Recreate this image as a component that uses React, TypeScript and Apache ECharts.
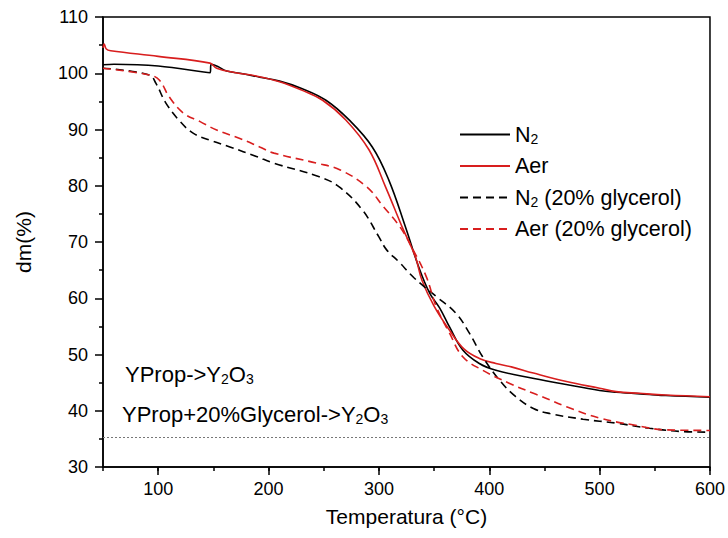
import React, { useEffect, useRef } from "react";
import * as echarts from "echarts";

// N2 (solid black)
const n2Temp = [50, 60, 100, 147, 148, 154, 162, 174, 192, 210, 230, 252, 273, 294, 309, 324, 336, 346, 355, 364, 376, 391, 406, 436, 466, 500, 515, 545, 560, 600];
const n2Mass = [101.5, 101.6, 101.3, 100.1, 101.6, 101.2, 100.4, 100.0, 99.3, 98.6, 97.3, 95.2, 91.7, 86.9, 81.0, 72.7, 65.6, 60.9, 58.3, 54.9, 50.8, 48.4, 47.2, 45.9, 44.8, 43.6, 43.3, 42.9, 42.7, 42.4];

// Aer (solid red)
const aerTemp = [50, 51, 53, 57, 100, 147, 153, 170, 189, 210, 230, 249, 270, 291, 306, 321, 333, 339, 350, 364, 377, 391, 406, 420, 440, 470, 500, 515, 536, 560, 600];
const aerMass = [104.5, 105.2, 104.3, 104.0, 103.0, 101.8, 100.9, 100.1, 99.5, 98.5, 97.0, 95.2, 91.7, 86.4, 79.8, 72.7, 67.4, 63.2, 58.6, 54.3, 51.0, 49.3, 48.4, 47.8, 46.7, 45.2, 44.0, 43.4, 43.1, 42.8, 42.5];

// N2 (20% glycerol) (dashed black)
const n2GlyTemp = [50, 92, 98, 107, 120, 132, 147, 165, 189, 205, 246, 264, 285, 300, 307, 318, 332, 352, 370, 382, 394, 409, 424, 440, 455, 485, 515, 545, 575, 600];
const n2GlyMass = [100.9, 99.7, 98.2, 94.7, 91.4, 89.3, 88.1, 86.9, 85.2, 84.0, 81.6, 79.8, 75.7, 70.9, 68.6, 66.5, 63.6, 60.3, 57.3, 53.8, 49.6, 45.5, 42.5, 40.4, 39.5, 38.5, 37.8, 36.9, 36.3, 36.2];

// Aer (20% glycerol) (dashed red)
const aerGlyTemp = [50, 92, 101, 110, 123, 138, 153, 174, 192, 205, 244, 265, 289, 304, 319, 331, 343, 352, 364, 376, 394, 418, 440, 448, 470, 500, 530, 560, 600];
const aerGlyMass = [100.9, 99.7, 98.8, 95.8, 92.9, 91.4, 89.9, 88.4, 86.9, 85.8, 84.0, 82.8, 79.8, 76.3, 72.7, 68.6, 63.8, 58.5, 53.8, 49.6, 47.2, 44.9, 43.1, 42.5, 40.7, 38.7, 37.5, 36.6, 36.5];

const referenceLevel = 35.3;

const seriesNames = ["N2", "Aer", "N2 (20% glycerol)", "Aer (20% glycerol)"];
const legendRich: Record<string, string> = {
  "N2": "{a|N}{s|2}",
  "Aer": "{a|Aer}",
  "N2 (20% glycerol)": "{a|N}{s|2}{a| (20% glycerol)}",
  "Aer (20% glycerol)": "{a|Aer (20% glycerol)}",
};
const annotation1 = "{a|YProp->Y}{s|2}{a|O}{s|3}";
const annotation2 = "{a|YProp+20%Glycerol->Y}{s|2}{a|O}{s|3}";

const FONT = "'Liberation Sans', Arial, sans-serif";
const RED = "#d81e1e";
const BLACK = "#000000";

const zip = (xs: number[], ys: number[]) => xs.map((x, i) => [x, ys[i]]);

export default function App() {
  const ref = useRef<HTMLDivElement>(null);
  useEffect(() => {
    if (!ref.current) return;
    const chart = echarts.init(ref.current, undefined, { renderer: "svg" });
    const richText = (size: number, sub: number, pad: number, lh: number) => ({
      a: { fontSize: size, fontFamily: FONT, color: "#000", lineHeight: lh },
      s: { fontSize: sub, fontFamily: FONT, color: "#000", lineHeight: lh, padding: [pad, 0, 0, 0] },
    });
    const lineSeries = (name: string, data: number[][], color: string, dashed: boolean) => ({
      name,
      type: "line",
      data,
      showSymbol: false,
      symbol: "none",
      smooth: 0.4,
      xAxisIndex: 0,
      yAxisIndex: 0,
      lineStyle: { color, width: 1.6, type: dashed ? [8, 5] : "solid" },
      itemStyle: { color },
      z: 3,
    });
    chart.setOption({
      animation: false,
      backgroundColor: "#ffffff",
      grid: {
        left: 103,
        right: 17,
        top: 17,
        bottom: 71,
        show: true,
        borderColor: "#000",
        borderWidth: 1.5,
        backgroundColor: "transparent",
      },
      legend: {
        orient: "vertical",
        left: 454,
        top: 118,
        itemWidth: 50,
        itemHeight: 14,
        itemGap: 9,
        data: seriesNames,
        itemStyle: { opacity: 0, borderWidth: 0 },
        formatter: (name: string) => legendRich[name],
        textStyle: { rich: richText(21.5, 14, 9, 26) },
      },
      xAxis: [
        {
          type: "value",
          min: 50,
          max: 600,
          position: "bottom",
          name: "Temperatura (°C)",
          nameLocation: "middle",
          nameGap: 39,
          nameTextStyle: { fontSize: 21, fontFamily: FONT, color: "#000" },
          axisLine: { show: true, lineStyle: { color: "#000", width: 1.5 } },
          axisTick: { show: true, inside: false, length: 8, lineStyle: { color: "#000", width: 1.5 } },
          axisLabel: { showMinLabel: false, fontSize: 18, fontFamily: FONT, color: "#000", margin: 13 },
          splitLine: { show: false },
        },
        {
          type: "value",
          min: 50,
          max: 600,
          interval: 50,
          position: "bottom",
          axisLine: { show: false },
          axisTick: { show: true, inside: false, length: 4, lineStyle: { color: "#000", width: 1.5 } },
          axisLabel: { show: false },
          splitLine: { show: false },
        },
      ],
      yAxis: {
        type: "value",
        min: 30,
        max: 110,
        interval: 10,
        name: "dm(%)",
        nameLocation: "middle",
        nameGap: 69,
        nameTextStyle: { fontSize: 21, fontFamily: FONT, color: "#000" },
        axisLine: { show: true, lineStyle: { color: "#000", width: 1.5 } },
        axisTick: { show: true, inside: false, length: 8, lineStyle: { color: "#000", width: 1.5 } },
        minorTick: { show: true, splitNumber: 2, length: 4, lineStyle: { color: "#000", width: 1.5 } },
        axisLabel: { fontSize: 18, fontFamily: FONT, color: "#000", margin: 15 },
        splitLine: { show: false },
      },
      series: [
        {
          ...lineSeries(seriesNames[0], zip(n2Temp, n2Mass), BLACK, false),
          markLine: {
            silent: true,
            symbol: "none",
            label: { show: false },
            lineStyle: { color: "#777", type: [2, 2], width: 1 },
            data: [{ yAxis: referenceLevel }],
          },
        },
        lineSeries(seriesNames[1], zip(aerTemp, aerMass), RED, false),
        lineSeries(seriesNames[2], zip(n2GlyTemp, n2GlyMass), BLACK, true),
        lineSeries(seriesNames[3], zip(aerGlyTemp, aerGlyMass), RED, true),
      ],
      graphic: [
        {
          type: "text",
          left: 125,
          top: 362,
          style: { text: annotation1, rich: richText(22, 14, 10, 28) },
        },
        {
          type: "text",
          left: 122,
          top: 402,
          style: { text: annotation2, rich: richText(22, 14, 10, 28) },
        },
      ],
    });
    return () => chart.dispose();
  }, []);
  return (
    <div
      ref={ref}
      style={{ position: "fixed", left: 0, top: 0, width: 728, height: 538, background: "#fff" }}
    />
  );
}
